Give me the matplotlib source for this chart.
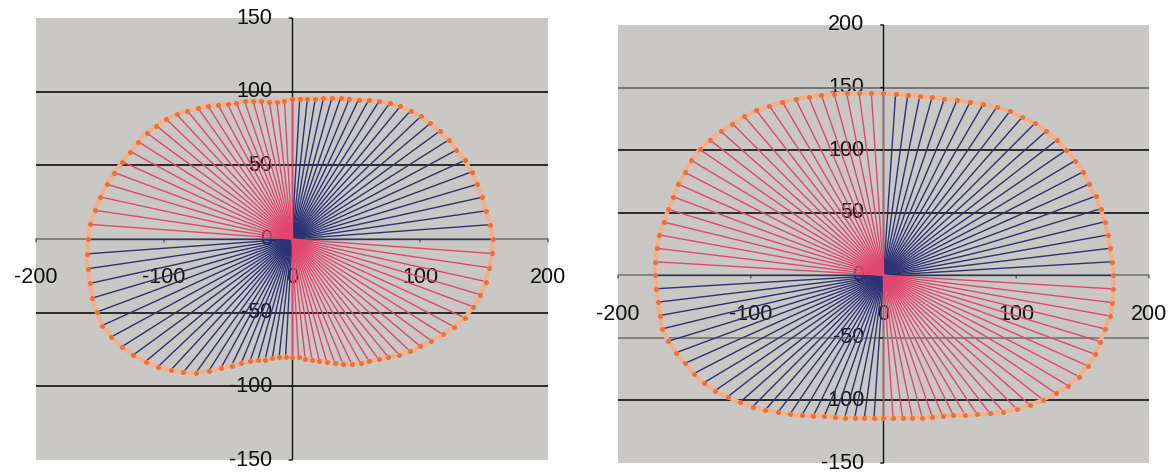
import numpy as np
import matplotlib
matplotlib.use("Agg")
import matplotlib.pyplot as plt

plt.rcParams['font.family'] = ['Liberation Sans', 'DejaVu Sans']

# boundary radius, one value every 3.6 degrees (0 .. 356.4)
angles_deg = np.arange(100) * 3.6

left_radius = [
    157, 155, 152.5, 151, 149, 147.5, 145, 142, 139.5, 136.5, 133.5, 130.5, 127,
    123.5, 119.5, 115.5, 111.5, 108, 105, 103, 100.5, 98.5, 97, 96, 95.5,
    95, 94, 94, 95, 96.5, 98.5, 100.5, 102, 104.5, 108, 111.5, 115.5, 119.5,
    123.5, 127.5, 131, 134.5, 137, 139.5, 142.5, 146, 149.5, 152.5, 155.5, 158,
    159.5, 160.5, 161, 161, 161, 160.5, 159.5, 156, 152, 147, 141.5, 136, 130,
    124, 118, 111, 104, 98, 93, 89, 86.5, 84.5, 82.5, 81, 80,
    80, 80.5, 82, 83.5, 85.5, 88, 90.5, 93.5, 97, 100, 102.5, 106, 110,
    115, 119.5, 124, 129, 134.5, 140, 145, 149, 152, 154, 155.5, 156.5,
]

right_radius = [
    173, 172.5, 172, 172, 172, 172, 171.8, 171.5, 171.3, 171, 170.3, 169.3, 168,
    166.5, 164, 161.8, 159, 156, 152.7, 150.5, 148.5, 146.8, 145.5, 145.2, 145.3,
    145.6, 146, 146.8, 148, 149.5, 151.3, 153.3, 155.5, 158, 160.5, 162.8, 164.8,
    166.2, 168, 169.8, 171.2, 171.3, 171, 170.7, 170.5, 170.5, 171, 172, 172.3, 172.2,
    172, 171.5, 171.2, 171.6, 172, 170.5, 167.8, 165.5, 163, 160.5, 157, 152.5,
    148.5, 144, 139.5, 135.5, 131.5, 127.5, 124, 121, 119, 117.5, 116, 115, 114.5,
    114, 114.3, 115, 116, 117.5, 119, 121, 123.5, 127, 131.5, 136.5, 141.5, 146.5,
    151.5, 156, 160.5, 165, 168, 170.3, 171.3, 171.6, 172.5, 173.5, 173.7, 173.3,
]

left_xticks = [-200, -100, 0, 100, 200]
left_yticks = [-150, -100, -50, 0, 50, 100, 150]
right_xticks = [-200, -100, 0, 100, 200]
right_yticks = [-150, -100, -50, 0, 50, 100, 150, 200]

BLUE = '#2b3275'
RED = '#e2466c'
DOT = '#e8723c'
HALO = '#f4b08a'
BG = '#c9c8c4'


def draw_panel(ax, radius, xlim, ylim, xticks, yticks, grid_colors):
    r = np.array(radius)
    t = np.deg2rad(angles_deg)
    x = r * np.cos(t)
    y = r * np.sin(t)

    ax.set_facecolor(BG)
    ax.set_xlim(*xlim)
    ax.set_ylim(*ylim)
    for s in ax.spines.values():
        s.set_visible(False)
    ax.set_xticks([])
    ax.set_yticks([])

    # horizontal gridlines
    for v in yticks:
        if v in ylim or v == 0:
            continue
        ax.axhline(v, color=grid_colors.get(v, '#1e1e1e'), lw=1.3, zorder=1.5)

    # axes through the origin
    ax.axhline(0, color='#7c7c7c', lw=1.3, zorder=1.5)
    ax.axvline(0, color='#111111', lw=1.0, zorder=1.5)

    # tick labels, drawn under the rays like the original
    for v in xticks:
        ax.annotate(str(v), (v, 0), xytext=(0, -28), textcoords='offset points',
                    ha='center', va='center', fontsize=15.5, color='#111111',
                    zorder=1, annotation_clip=False)
        ax.annotate('', (v, 0), xytext=(0, -4), textcoords='offset points',
                    arrowprops=dict(arrowstyle='-', color='#555555', lw=1),
                    annotation_clip=False)
    for v in yticks:
        ax.annotate(str(v), (0, v), xytext=(-14, 0), textcoords='offset points',
                    ha='right', va='center', fontsize=15.5, color='#111111',
                    zorder=1, annotation_clip=False)
        ax.annotate('', (0, v), xytext=(-4, 0), textcoords='offset points',
                    arrowprops=dict(arrowstyle='-', color='#111111', lw=1),
                    annotation_clip=False)

    # rays from the origin, colour by quadrant
    quad = (np.arange(len(r)) // 25) % 2
    for q, col in [(0, BLUE), (1, RED)]:
        m = quad == q
        xs = np.vstack([np.zeros(m.sum()), x[m]])
        ys = np.vstack([np.zeros(m.sum()), y[m]])
        ax.plot(xs, ys, color=col, lw=1.0, zorder=3)

    # boundary
    xc = np.append(x, x[0])
    yc = np.append(y, y[0])
    ax.plot(xc, yc, color=HALO, lw=3.0, zorder=4, solid_capstyle='round')
    ax.plot(x, y, 'o', color=DOT, ms=3.6, mec='none', zorder=5)


fig = plt.figure(figsize=(11.74, 4.74), dpi=100)
ax1 = fig.add_axes([0.0307, 0.0295, 0.4361, 0.9325])
ax2 = fig.add_axes([0.5264, 0.0232, 0.4523, 0.9241])

draw_panel(ax1, left_radius, (-200, 200), (-150, 150), left_xticks, left_yticks, {})
draw_panel(ax2, right_radius, (-200, 200), (-150, 200), right_xticks, right_yticks,
           {150: '#6e6e6e', -50: '#7c7c7c'})

fig.savefig('out.png', dpi=100)
